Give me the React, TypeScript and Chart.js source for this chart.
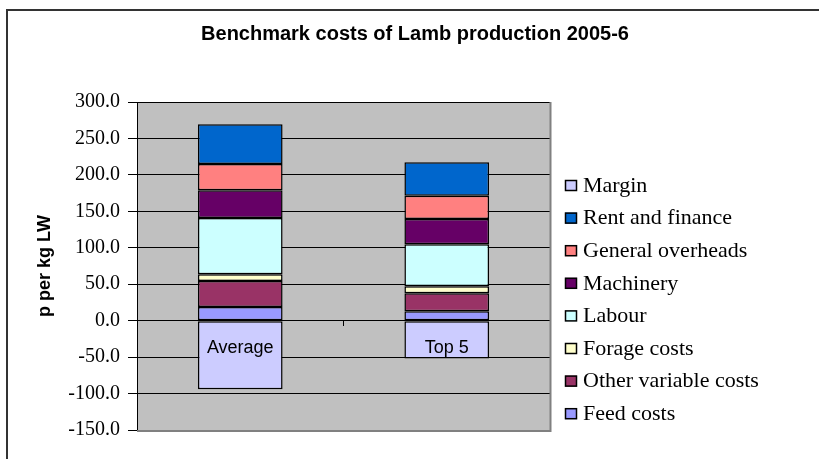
import React, { useEffect, useRef } from "react";
import { Chart, registerables } from "chart.js";

Chart.register(...registerables);

const chartTitle = "Benchmark costs of Lamb production 2005-6";
const yAxisTitle = "p per kg LW";
const categories = ["Average", "Top 5"];

const feedCosts = [18.8, 12.9];
const otherVariableCosts = [35.7, 24.7];
const forageCosts = [9.2, 9.6];
const labour = [77.3, 57.8];
const machinery = [38, 34.5];
const generalOverheads = [36, 32];
const rentAndFinance = [54.5, 45.8];
const margin = [-94, -52];

const yMin = -150;
const yMax = 300;
const yStep = 50;

const seriesNames = [
  "Feed costs",
  "Other variable costs",
  "Forage costs",
  "Labour",
  "Machinery",
  "General overheads",
  "Rent and finance",
  "Margin",
];
const seriesValues = [
  feedCosts,
  otherVariableCosts,
  forageCosts,
  labour,
  machinery,
  generalOverheads,
  rentAndFinance,
  margin,
];
const seriesColors = [
  "#9999FF",
  "#993366",
  "#FFFFCC",
  "#CCFFFF",
  "#660066",
  "#FF8080",
  "#0066CC",
  "#CCCCFF",
];

const SERIF = "'Liberation Serif', 'Times New Roman', serif";
const SANS = "'Liberation Sans', Arial, sans-serif";

const decorPlugin = {
  id: "decor",
  beforeDraw(chart: any) {
    const { ctx, chartArea } = chart;
    ctx.save();
    ctx.fillStyle = "#FFFFFF";
    ctx.fillRect(0, 0, chart.width, chart.height);
    ctx.fillStyle = "#C0C0C0";
    ctx.fillRect(
      chartArea.left,
      chartArea.top,
      chartArea.right - chartArea.left,
      chartArea.bottom - chartArea.top
    );
    ctx.restore();
  },
  beforeDatasetsDraw(chart: any) {
    const { ctx, chartArea } = chart;
    ctx.save();
    ctx.strokeStyle = "#808080";
    ctx.lineWidth = 2;
    ctx.beginPath();
    ctx.moveTo(chartArea.right + 0.5, chartArea.top);
    ctx.lineTo(chartArea.right + 0.5, chartArea.bottom + 1);
    ctx.lineTo(chartArea.left, chartArea.bottom + 1);
    ctx.stroke();
    ctx.restore();
  },
  afterDraw(chart: any) {
    const { ctx } = chart;
    ctx.save();
    // outer chart border
    ctx.strokeStyle = "#333333";
    ctx.lineWidth = 2;
    ctx.beginPath();
    ctx.moveTo(7, chart.height + 2);
    ctx.lineTo(7, 10);
    ctx.lineTo(chart.width + 2, 10);
    ctx.stroke();

    // title
    ctx.fillStyle = "#000000";
    ctx.font = `bold 20px ${SANS}`;
    ctx.textAlign = "center";
    ctx.textBaseline = "middle";
    ctx.fillText(chartTitle, 415, 34);

    // legend (reverse of stacking order)
    const x0 = 565;
    const yStart = 185;
    const gap = 32.6;
    ctx.font = `22px ${SERIF}`;
    ctx.textAlign = "left";
    ctx.textBaseline = "middle";
    for (let k = 0; k < seriesNames.length; k++) {
      const i = seriesNames.length - 1 - k;
      const yc = yStart + k * gap;
      ctx.fillStyle = seriesColors[i];
      ctx.fillRect(x0, yc - 5, 12, 11);
      ctx.strokeStyle = "#000000";
      ctx.lineWidth = 1.5;
      ctx.strokeRect(x0 + 0.5, yc - 5 + 0.5, 11, 10);
      ctx.fillStyle = "#000000";
      ctx.fillText(seriesNames[i], x0 + 18, yc + 1);
    }
    ctx.restore();
  },
};

export default function App() {
  const canvasRef = useRef<HTMLCanvasElement | null>(null);

  useEffect(() => {
    const canvas = canvasRef.current;
    if (!canvas) return;
    const chart = new Chart(canvas, {
      type: "bar",
      data: {
        labels: categories,
        datasets: seriesNames.map((name, i) => ({
          label: name,
          data: seriesValues[i],
          backgroundColor: seriesColors[i],
          borderColor: "#000000",
          borderWidth: 1.5,
          borderSkipped: false,
          barPercentage: 0.41,
          categoryPercentage: 1,
        })),
      },
      options: {
        responsive: false,
        animation: false,
        events: [],
        layout: { padding: { left: 0, top: 102, right: 269, bottom: 29 } },
        plugins: {
          legend: { display: false },
          title: { display: false },
          tooltip: { enabled: false },
        },
        scales: {
          x: {
            stacked: true,
            position: { y: 0 } as any,
            grid: {
              display: true,
              drawOnChartArea: false,
              drawTicks: true,
              tickLength: 5,
              offset: true,
              color: "#000000",
            },
            border: { display: true, color: "#000000", width: 1 },
            ticks: {
              color: "#000000",
              font: { family: SANS, size: 18 },
              padding: 12,
              z: 2,
            },
          },
          y: {
            stacked: true,
            min: yMin,
            max: yMax,
            ticks: {
              stepSize: yStep,
              color: "#000000",
              font: { family: SERIF, size: 20 },
              padding: 8,
              callback: (v: any) => Number(v).toFixed(1),
            },
            grid: {
              color: "#000000",
              lineWidth: 1,
              tickLength: 9,
            },
            border: { color: "#000000", width: 1 },
            title: {
              display: true,
              text: yAxisTitle,
              color: "#000000",
              font: { family: SANS, size: 18, weight: "bold" },
              padding: { top: 34, bottom: 0 },
            },
            afterFit: (scale: any) => {
              scale.width = 137;
            },
          },
        },
      },
      plugins: [decorPlugin],
    });
    return () => chart.destroy();
  }, []);

  return (
    <div style={{ position: "fixed", left: 0, top: 0, width: 819, height: 459, background: "#fff" }}>
      <canvas ref={canvasRef} width={819} height={459} style={{ display: "block", width: 819, height: 459 }} />
    </div>
  );
}
